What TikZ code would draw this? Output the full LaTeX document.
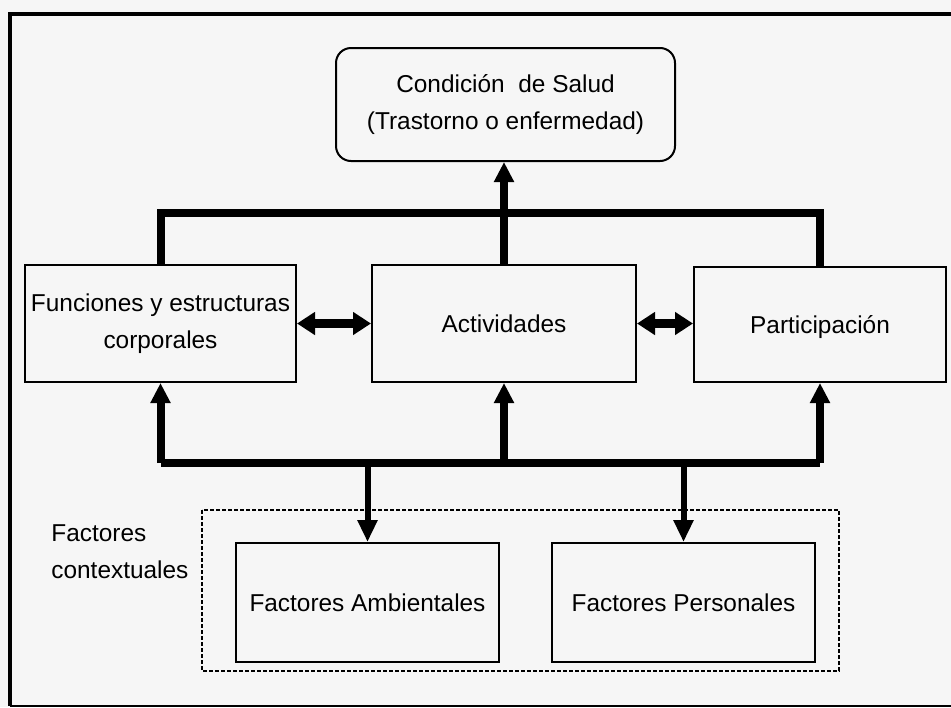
\documentclass[tikz,border=0pt]{standalone}
\usepackage{fontspec}
\setmainfont{Liberation Sans}
\usetikzlibrary{arrows.meta,positioning}
\definecolor{fondo}{RGB}{246,246,246}
\tikzset{
    caja/.style={
      draw=black, line width=1pt, inner sep=0pt, align=center,
      font=\fontsize{12.2}{18.5}\selectfont,
    },
    barra/.style={line width=4pt},
    flecha/.style={line width=4pt, -{Triangle[width=9.5pt,length=10pt]}},
    flechafina/.style={line width=3pt, -{Triangle[width=9.5pt,length=11pt]}},
    doble/.style={line width=4.5pt, {Triangle[width=11pt,length=9pt]}-{Triangle[width=11pt,length=9pt]}},
  }

\begin{document}
\begin{tikzpicture}[x=0.5pt, y=-0.5pt]
      % background and frame
      \fill[fondo] (0,0) rectangle (951,707);
      \useasboundingbox (0,0) rectangle (951,707);
      \draw[line width=2pt] (951,14) -- (10,14) -- (10,706);
      \draw[line width=1pt] (10,706) -- (951,706);

      % health condition
      \node[caja, rounded corners=7.5pt, minimum width=169.5pt, minimum height=56.5pt] (cond) at (505.5,104.5)
         {Condición~~de Salud\\(Trastorno o enfermedad)};

      % middle row
      \node[caja, minimum width=135.5pt, minimum height=58.5pt] (func) at (160.5,323.5)
         {Funciones y estructuras\\corporales};
      \node[caja, minimum width=132pt, minimum height=58.5pt] (act) at (504,323.5) {Actividades};
      \node[caja, minimum width=126pt, minimum height=57.5pt, text depth=0pt] (part) at (820,324.5) {Participación};

      % contextual factors
      \node[caja, minimum width=131.5pt, minimum height=59.5pt] (amb) at (367.5,602.5) {Factores Ambientales};
      \node[caja, minimum width=131.5pt, minimum height=59.5pt] (pers) at (683.5,602.5) {Factores Personales};
      \draw[line width=1.2pt, dash pattern=on 2pt off 1pt] (202,510) rectangle (839,671);
      \node[anchor=west, align=left, inner sep=0pt, font=\fontsize{12.2}{18.5}\selectfont] (ctx) at (51,552)
         {Factores\\contextuales};

      % top bar
      \coordinate (arriba) at (0,213);
      \draw[barra] (func.north) -- (func.north |- arriba) -- (part.north |- arriba) -- (part.north);
      \draw[flecha] (act.north) -- (act.north |- cond.south);

      % double arrows
      \draw[doble] (func.east) -- (act.west);
      \draw[doble] (act.east) -- (act.east -| part.west);

      % bottom bar
      \coordinate (abajo) at (0,463);
      \draw[barra] (func.south |- abajo) -- (part.south |- abajo);
      \draw[flecha] (func.south |- abajo) -- (func.south);
      \draw[flecha] (act.south |- abajo) -- (act.south);
      \draw[flecha] (part.south |- abajo) -- (part.south);
      \draw[flechafina] (amb.north |- abajo) -- (amb.north);
      \draw[flechafina] (pers.north |- abajo) -- (pers.north);
    \end{tikzpicture}
\end{document}
